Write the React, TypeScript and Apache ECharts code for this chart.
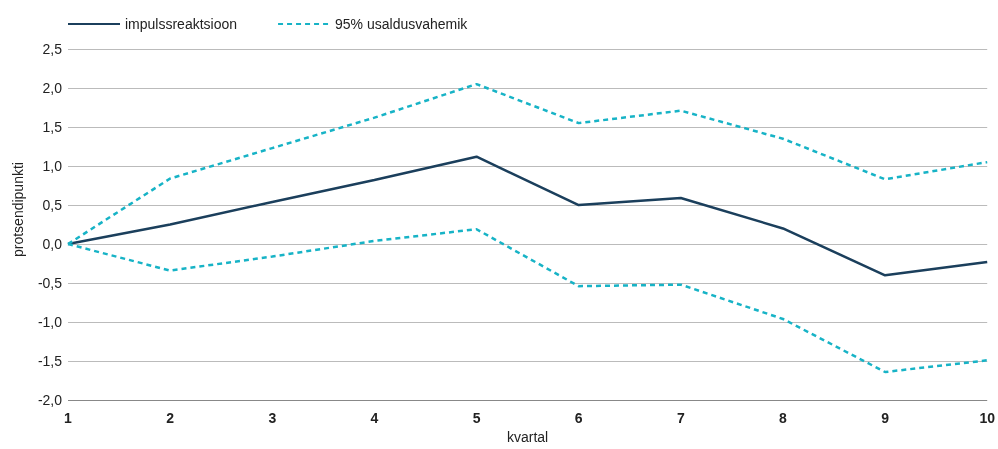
import React, { useEffect, useRef } from "react";
import * as echarts from "echarts";

const categories = ["1", "2", "3", "4", "5", "6", "7", "8", "9", "10"];
const impulse = [0.0, 0.25, 0.54, 0.82, 1.12, 0.5, 0.59, 0.2, -0.4, -0.23];
const upper = [0.0, 0.84, 1.23, 1.62, 2.05, 1.55, 1.71, 1.35, 0.83, 1.05];
const lower = [0.0, -0.34, -0.16, 0.04, 0.19, -0.54, -0.52, -0.96, -1.64, -1.49];
const impulseName = "impulssreaktsioon";
const bandName = "95% usaldusvahemik";

export default function App() {
  const ref = useRef<HTMLDivElement>(null);
  useEffect(() => {
    if (!ref.current) return;
    const chart = echarts.init(ref.current, undefined, { renderer: "svg" });
    const font = "Liberation Sans, Arial, Helvetica, sans-serif";
    chart.setOption({
      animation: false,
      textStyle: { fontFamily: font },
      legend: {
        left: 62,
        top: 12,
        itemWidth: 52,
        itemHeight: 14,
        itemGap: 40,
        itemStyle: { opacity: 0 },
        textStyle: { fontSize: 14, color: "#222", fontFamily: font },
        data: [impulseName, bandName],
      },
      grid: { left: 68, right: 9, top: 49, bottom: 44, containLabel: false },
      xAxis: {
        type: "category",
        data: categories,
        boundaryGap: false,
        name: "kvartal",
        nameLocation: "middle",
        nameGap: 28,
        nameTextStyle: { fontSize: 14, color: "#222", fontFamily: font },
        axisLine: { show: false },
        axisTick: { show: false },
        axisLabel: { fontSize: 14, fontWeight: "bold", color: "#222", margin: 11, fontFamily: font },
      },
      yAxis: {
        type: "value",
        min: -2,
        max: 2.5,
        interval: 0.5,
        name: "protsendipunkti",
        nameLocation: "middle",
        nameGap: 43,
        nameTextStyle: { fontSize: 14, color: "#222", fontFamily: font, padding: [0, 0, 0, 30] },
        axisLine: { show: false },
        axisTick: { show: false },
        axisLabel: {
          fontSize: 14,
          color: "#222",
          margin: 6,
          fontFamily: font,
          formatter: (v: number) => v.toFixed(1).replace(".", ","),
        },
        splitLine: {
          lineStyle: {
            color: ["#888", "#bbb", "#bbb", "#bbb", "#bbb", "#bbb", "#bbb", "#bbb", "#bbb", "#bbb"],
            width: 1,
          },
        },
      },
      series: [
        {
          name: impulseName,
          type: "line",
          data: impulse,
          symbol: "none",
          lineStyle: { color: "#1b3f5c", width: 2.5 },
          itemStyle: { color: "#1b3f5c" },
          z: 3,
        },
        {
          name: bandName,
          type: "line",
          data: upper,
          symbol: "none",
          lineStyle: { color: "#17b3c6", width: 2.5, type: [5, 4] },
          itemStyle: { color: "#17b3c6" },
        },
        {
          name: bandName,
          type: "line",
          data: lower,
          symbol: "none",
          lineStyle: { color: "#17b3c6", width: 2.5, type: [5, 4] },
          itemStyle: { color: "#17b3c6" },
        },
      ],
    });
    return () => chart.dispose();
  }, []);
  return <div ref={ref} style={{ width: 998, height: 449, position: "fixed", left: 0, top: 0 }} />;
}
